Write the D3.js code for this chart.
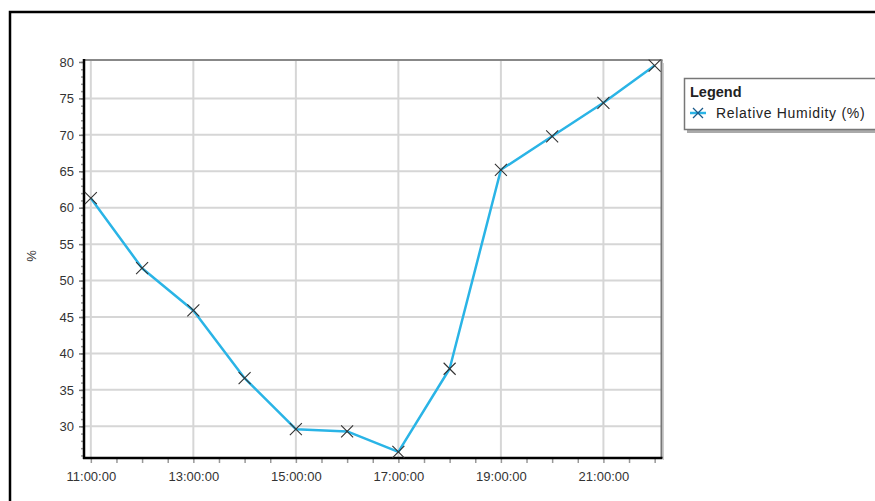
<!DOCTYPE html>
<html>
<head>
<meta charset="utf-8">
<script src="https://cdn.jsdelivr.net/npm/d3@7"></script>
<style>
html,body{margin:0;padding:0;background:#fff;}
svg{display:block;font-family:"Liberation Sans",Arial,sans-serif;}
</style>
</head>
<body>
<svg id="chart" width="875" height="501"></svg>
<script>
const hours = [11,12,13,14,15,16,17,18,19,20,21,22];
const humidity = [61.3,51.7,45.9,36.6,29.6,29.3,26.5,37.9,65.2,69.8,74.4,79.5];
const yTicks = [30,35,40,45,50,55,60,65,70,75,80];
const xLabelHours = [11,13,15,17,19,21];
const seriesName = "Relative Humidity (%)";
const yTitle = "%";
const legendTitle = "Legend";

const svg = d3.select("#chart");
const t = h => new Date(2020,0,1,Math.floor(h),Math.round((h%1)*60));
const data = hours.map((h,i)=>({date:t(h), v:humidity[i]}));

const L=84, R=661.5, T=60, B=458;
const x = d3.scaleTime().domain([t(10+52.4/60), t(22+7.7/60)]).range([L,R]);
const y = d3.scaleLinear().domain([25.65,80.27]).range([B,T]);

// outer frame
svg.append("rect").attr("x",10).attr("y",12).attr("width",900).attr("height",520)
  .attr("fill","#fff").attr("stroke","#000").attr("stroke-width",2.5);

// gridlines
const g = svg.append("g");
g.selectAll(".hg").data(yTicks.filter(d=>d<80)).join("line")
  .attr("x1",L).attr("x2",R).attr("y1",d=>y(d)).attr("y2",d=>y(d))
  .attr("stroke","#d6d6d6").attr("stroke-width",2);
g.selectAll(".vg").data(xLabelHours).join("line")
  .attr("x1",d=>x(t(d))).attr("x2",d=>x(t(d))).attr("y1",T).attr("y2",B)
  .attr("stroke","#d6d6d6").attr("stroke-width",2);

// top & right borders
svg.append("line").attr("x1",L).attr("x2",R+1).attr("y1",T).attr("y2",T).attr("stroke","#888").attr("stroke-width",2);
svg.append("line").attr("x1",R).attr("x2",R).attr("y1",T).attr("y2",B).attr("stroke","#777").attr("stroke-width",2);
svg.append("line").attr("x1",R+2).attr("x2",R+2).attr("y1",T+3).attr("y2",B+2).attr("stroke","#ccc").attr("stroke-width",1);

const font = "'Liberation Sans',Arial,sans-serif";

// y axis
const yMinor = d3.range(26,81,1);
const yAxisMinor = d3.axisLeft(y).tickValues(yMinor).tickSize(3).tickFormat("");
const ya = svg.append("g").attr("transform",`translate(${L},0)`).call(yAxisMinor);
ya.select(".domain").remove();
ya.selectAll(".tick line").attr("stroke","#999").attr("stroke-width",1.5);
const yAxis = d3.axisLeft(y).tickValues(yTicks).tickSize(5).tickPadding(5);
const yb = svg.append("g").attr("transform",`translate(${L},0)`).call(yAxis);
yb.select(".domain").remove();
yb.selectAll(".tick line").attr("stroke","#777").attr("stroke-width",1.5);
yb.selectAll(".tick text").attr("font-size",13).attr("fill","#333").attr("font-family",font);

// x axis
const xMinor = d3.range(0,23).map(i=>t(11+i*0.5)).filter(d=>d<=x.domain()[1]);
const xAxisMinor = d3.axisBottom(x).tickValues(xMinor).tickSize(5).tickFormat("");
const xa = svg.append("g").attr("transform",`translate(0,${B})`).call(xAxisMinor);
xa.select(".domain").remove();
xa.selectAll(".tick line").attr("stroke","#999").attr("stroke-width",1.5);
const xAxis = d3.axisBottom(x).tickValues(xLabelHours.map(t)).tickSize(0).tickPadding(14)
  .tickFormat(d3.timeFormat("%H:%M:%S"));
const xb = svg.append("g").attr("transform",`translate(0,${B})`).call(xAxis);
xb.select(".domain").remove();
xb.selectAll(".tick text").attr("font-size",13).attr("fill","#333").attr("font-family",font);

// main axis lines
svg.append("line").attr("x1",L).attr("x2",L).attr("y1",T-1).attr("y2",B+1).attr("stroke","#000").attr("stroke-width",2.5);
svg.append("line").attr("x1",L-1).attr("x2",R+1).attr("y1",B).attr("y2",B).attr("stroke","#000").attr("stroke-width",2.5);

// y title
svg.append("text").attr("transform","translate(36,256) rotate(-90)")
  .attr("text-anchor","middle").attr("font-size",13).attr("fill","#333").attr("font-family",font).text(yTitle);

// line
const line = d3.line().x(d=>x(d.date)).y(d=>y(d.v));
svg.append("path").datum(data).attr("d",line).attr("fill","none")
  .attr("stroke","#2ab4e6").attr("stroke-width",2.5).attr("stroke-linejoin","round");

// markers
const s=6;
const mk = svg.append("g").selectAll("g").data(data).join("g")
  .attr("transform",d=>`translate(${x(d.date)},${y(d.v)})`);
mk.append("path").attr("d",`M${-s},${-s}L${s},${s}M${-s},${s}L${s},${-s}`)
  .attr("stroke","#333").attr("stroke-width",1.1).attr("fill","none");

// legend
const lg = svg.append("g");
lg.append("rect").attr("x",687).attr("y",81).attr("width",200).attr("height",52).attr("fill","#aaa");
lg.append("rect").attr("x",684.5).attr("y",78.5).attr("width",200).attr("height",51)
  .attr("fill","#fff").attr("stroke","#777").attr("stroke-width",1.5);
lg.append("text").attr("x",690).attr("y",97).attr("font-size",14.5).attr("font-weight","bold")
  .attr("fill","#222").attr("font-family",font).text(legendTitle);
lg.append("line").attr("x1",690).attr("x2",706).attr("y1",113).attr("y2",113)
  .attr("stroke","#2ab4e6").attr("stroke-width",2.5);
lg.append("path").attr("d","M693,108L703,118M693,118L703,108").attr("stroke","#1a5a8a").attr("stroke-width",1.3);
lg.append("text").attr("x",716).attr("y",118).attr("font-size",14).attr("letter-spacing",0.7)
  .attr("fill","#222").attr("font-family",font).text(seriesName);
</script>
</body>
</html>
